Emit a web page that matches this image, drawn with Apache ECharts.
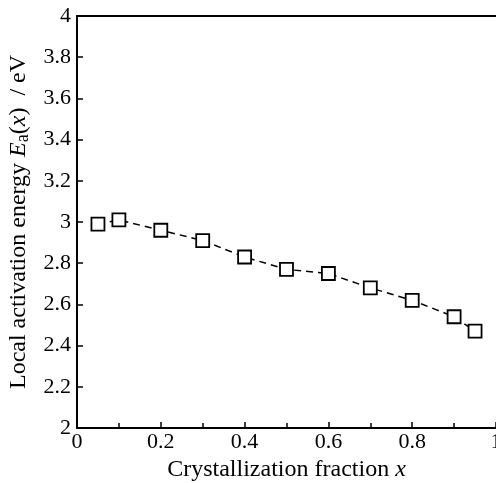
<!DOCTYPE html>
<html><head><meta charset="utf-8">
<script src="https://cdn.jsdelivr.net/npm/echarts@6/dist/echarts.min.js"></script>
<style>html,body{margin:0;padding:0;background:#fff}#c{width:496px;height:483px}</style>
</head><body><div id="c"></div>
<script>
const xValues = [0.05, 0.1, 0.2, 0.3, 0.4, 0.5, 0.6, 0.7, 0.8, 0.9, 0.95];
const energy = [2.99, 3.01, 2.96, 2.91, 2.83, 2.77, 2.75, 2.68, 2.62, 2.54, 2.47];
const xTitle = 'Crystallization fraction {i|x}';
const yTitle = 'Local activation energy {i|E}{sub|a}({i|x})  / eV';

const font = "'Liberation Serif', 'Times New Roman', serif";
const chart = echarts.init(document.getElementById('c'));
chart.setOption({
  animation: false,
  grid: {left: 77, top: 16, right: 0, bottom: 55, outerBoundsMode: 'none', containLabel: false},
  xAxis: [{
    type: 'value', min: 0, max: 1, interval: 0.2,
    axisLine: {lineStyle: {color: '#000', width: 2}},
    axisTick: {inside: true, length: 6, lineStyle: {color: '#000', width: 1.5}},
    minorTick: {show: true, splitNumber: 2, length: 5, lineStyle: {color: '#000', width: 1.5}},
    splitLine: {show: false},
    axisLabel: {color: '#000', fontFamily: font, fontSize: 22, margin: 3},
    name: xTitle, nameLocation: 'middle', nameGap: 30,
    nameTextStyle: {color: '#000', fontFamily: font, fontSize: 24, verticalAlign: 'top',
      rich: {i: {fontStyle: 'italic', fontFamily: font, fontSize: 24, color: '#000'}}}
  }, {
    type: 'value', position: 'top', min: 0, max: 1,
    axisLine: {show: true, lineStyle: {color: '#000', width: 2}},
    axisTick: {show: false}, axisLabel: {show: false}, splitLine: {show: false}
  }],
  yAxis: {
    type: 'value', min: 2, max: 4, interval: 0.2,
    axisLine: {lineStyle: {color: '#000', width: 2}},
    axisTick: {inside: true, length: 6, lineStyle: {color: '#000', width: 1.5}},
    splitLine: {show: false},
    axisLabel: {color: '#000', fontFamily: font, fontSize: 22, margin: 6},
    name: yTitle, nameLocation: 'middle', nameGap: 44,
    nameTextStyle: {color: '#000', fontFamily: font, fontSize: 24,
      rich: {
        i: {fontStyle: 'italic', fontFamily: font, fontSize: 24, color: '#000'},
        sub: {fontFamily: font, fontSize: 18, color: '#000', padding: [10, 0, 0, 0]}
      }}
  },
  series: [{
    type: 'line',
    data: xValues.map((x, i) => [x, energy[i]]),
    lineStyle: {color: '#000', width: 1.5, type: [7, 5]},
    symbol: 'rect', symbolSize: 13,
    itemStyle: {color: '#fff', borderColor: '#000', borderWidth: 1.8}
  }]
});
</script></body></html>
